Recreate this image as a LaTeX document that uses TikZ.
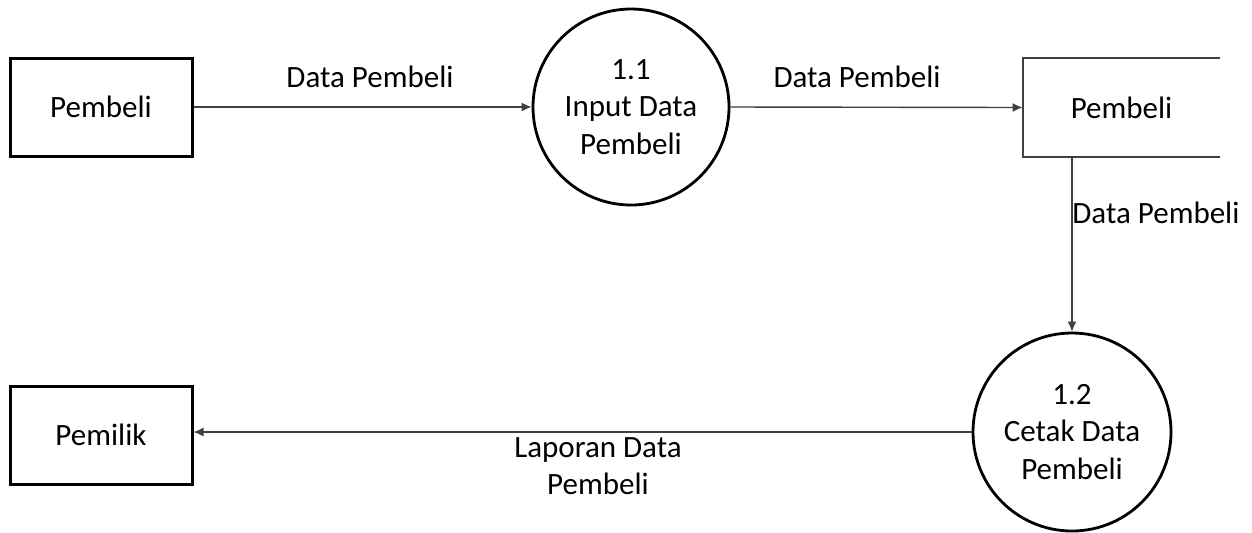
\documentclass[tikz,border=0pt]{standalone}
\usepackage{fontspec}
\setmainfont{Carlito}
\usetikzlibrary{arrows.meta}
\begin{document}
\begin{tikzpicture}[x=0.5pt,y=-0.5pt,
  every node/.style={font=\fontsize{15.5pt}{18.6pt}\selectfont, text=black},
  entity/.style={draw=black, line width=1.5pt, rectangle, minimum width=91pt, minimum height=49pt, inner sep=0pt},
  proc/.style={draw=black, line width=1.4pt, circle, minimum size=98pt, inner sep=0pt, align=center},
  flow/.style={draw=black!75, line width=0.7pt, -{Latex[length=5pt,width=4.5pt]}},
  storeline/.style={draw=black!75, line width=1pt},
  lbl/.style={inner sep=0pt, align=center}]
\useasboundingbox (0,0) rectangle (1252,532);
\fill[white] (0,0) rectangle (1252,532);
\node[entity] (pembeli) at (101,107) {Pembeli};
\node[proc] (p11) at (631,107) {1.1\\Input Data\\Pembeli};
\node[minimum width=98.5pt, minimum height=49.5pt, inner sep=0pt] (store) at (1121.5,107.5) {Pembeli};
\draw[storeline] (store.north east) -- (store.north west) -- (store.south west) -- (store.south east);
\node[proc, minimum size=99pt] (p12) at (1072,432) {1.2\\Cetak Data\\Pembeli};
\node[entity] (pemilik) at (101,435) {Pemilik};
\draw[flow] (pembeli.east) -- (p11.west);
\draw[flow] (p11.east) -- (store.west);
\draw[flow] (store.south -| p12.north) -- (p12.north);
\draw[flow] (p12.west) -- (pemilik.east |- p12.west);
\node[lbl] (l1) at (370,77) {Data Pembeli};
\node[lbl] (l2) at (857,77) {Data Pembeli};
\node[lbl, anchor=west] (l3) at (1072,213) {Data Pembeli};
\node[lbl] (l4) at (598,466) {Laporan Data\\Pembeli};
\end{tikzpicture}
\end{document}
